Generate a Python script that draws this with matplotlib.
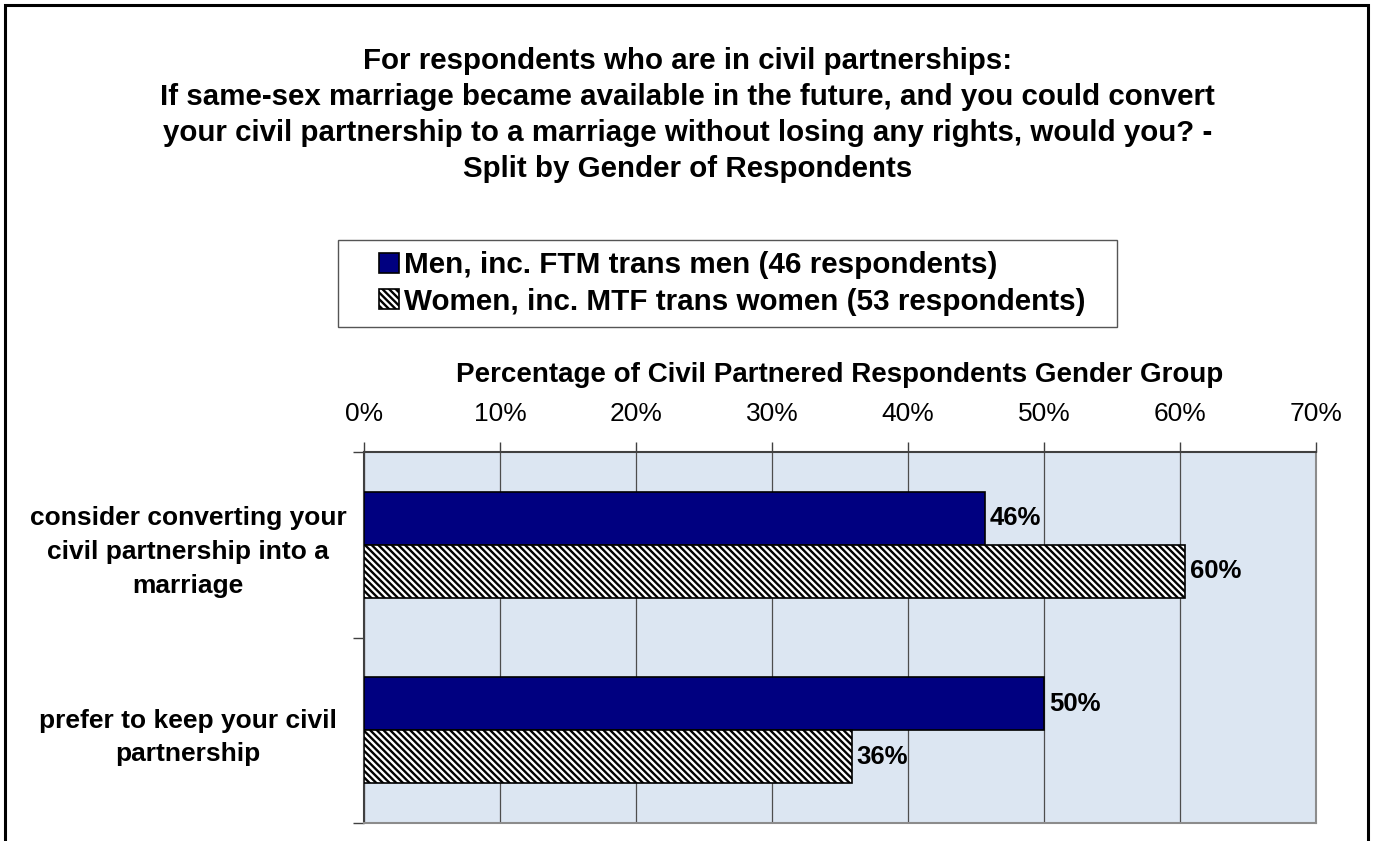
import matplotlib
matplotlib.use("Agg")
import matplotlib.pyplot as plt
import matplotlib.patches as mpatches
from matplotlib.legend_handler import HandlerPatch
import numpy as np

plt.rcParams['font.family'] = ['Liberation Sans', 'DejaVu Sans']
plt.rcParams['hatch.linewidth'] = 1.7

# ---- data ----
categories = ["consider converting your\ncivil partnership into a\nmarriage",
              "prefer to keep your civil\npartnership"]
series_names = ["Men, inc. FTM trans men (46 respondents)",
                "Women, inc. MTF trans women (53 respondents)"]
men_values = [45.65, 50.0]
women_values = [60.38, 35.85]
x_ticks = [0, 10, 20, 30, 40, 50, 60, 70]
x_tick_labels = ["0%", "10%", "20%", "30%", "40%", "50%", "60%", "70%"]
title_text = ("For respondents who are in civil partnerships:\n"
              "If same-sex marriage became available in the future, and you could convert\n"
              "your civil partnership to a marriage without losing any rights, would you? -\n"
              "Split by Gender of Respondents")
x_label = "Percentage of Civil Partnered Respondents Gender Group"

W, H = 1375, 841
fig = plt.figure(figsize=(W / 100, H / 100), dpi=100)

def fx(px):
    return px / W

def fy(py):
    return 1 - py / H

ax = fig.add_axes([fx(364), fy(823), fx(1316) - fx(364), fy(452) - fy(823)])
ax.set_facecolor('#DCE6F2')

y = np.arange(len(categories))
bh = 0.285
men_bars = ax.barh(y - bh / 2, men_values, height=bh, color='#000080',
                   edgecolor='black', linewidth=1.2, label=series_names[0], zorder=3)
women_bars = ax.barh(y + bh / 2, women_values, height=bh, color='white',
                     edgecolor='black', hatch='\\\\\\\\\\', linewidth=1.2,
                     label=series_names[1], zorder=3)

for bars, vals in ((men_bars, men_values), (women_bars, women_values)):
    for b, v in zip(bars, vals):
        ax.text(v + 0.35, b.get_y() + b.get_height() / 2, f"{v:.0f}%",
                va='center', ha='left', fontsize=18.5, fontweight='bold', zorder=4)

ax.set_xlim(0, 70)
ax.set_ylim(len(categories) - 0.5, -0.5)
ax.xaxis.tick_top()
ax.xaxis.set_label_position('top')
ax.set_xticks(x_ticks)
ax.set_xticklabels(x_tick_labels, fontsize=19)
ax.set_xlabel(x_label, fontsize=20, fontweight='bold', labelpad=14)
ax.tick_params(axis='x', which='major', length=7, width=1, color='#404040', pad=12)

ax.set_yticks(y)
ax.set_yticklabels(categories, fontsize=19, fontweight='bold')
ax.set_yticks(np.arange(-0.5, len(categories), 1.0), minor=True)
ax.tick_params(axis='y', which='major', length=0, pad=126.7)
ax.tick_params(axis='y', which='minor', length=8, width=1, color='#404040')
for lbl in ax.get_yticklabels():
    lbl.set_horizontalalignment('center')
    lbl.set_multialignment('center')
    lbl.set_linespacing(1.5)

ax.set_axisbelow(True)
ax.grid(axis='x', color='#4d4d4d', linewidth=0.9)
ax.grid(axis='y', visible=False)

ax.spines['top'].set_color('#404040')
ax.spines['left'].set_color('#404040')
ax.spines['top'].set_linewidth(1.5)
ax.spines['left'].set_linewidth(1.5)
ax.spines['right'].set_color('#8c8c8c')
ax.spines['bottom'].set_color('#8c8c8c')
ax.spines['right'].set_linewidth(1.5)
ax.spines['bottom'].set_linewidth(1.5)

# title
fig.text(0.5, fy(177), title_text, ha='center', va='baseline', fontsize=21.25,
         fontweight='bold', linespacing=1.36, multialignment='center')


# legend with a square key placed at the right end of the handle box
def square_key(legend, orig_handle, xdescent, ydescent, width, height, fontsize):
    s = height
    return mpatches.Rectangle((width - xdescent - s, -ydescent), s, s)


leg = fig.legend(handles=[men_bars.patches[0], women_bars.patches[0]],
                 labels=series_names,
                 loc='upper left',
                 bbox_to_anchor=(fx(338), fy(329), fx(1117) - fx(338), fy(240) - fy(329)),
                 mode='expand', prop={'size': 21.3, 'weight': 'bold'},
                 handlelength=1.69, handleheight=0.68, handletextpad=0.15,
                 labelspacing=0.28, borderpad=0.38, borderaxespad=0,
                 fancybox=False, framealpha=1, edgecolor='#555555',
                 handler_map={mpatches.Rectangle: HandlerPatch(patch_func=square_key)})
leg.get_frame().set_linewidth(1.0)

# outer border
fig.patches.append(mpatches.Rectangle((fx(5), -0.01), fx(1368) - fx(5), fy(5) + 0.01,
                                      transform=fig.transFigure, fill=False,
                                      edgecolor='black', linewidth=2.2))

fig.savefig('out.png', dpi=100)
